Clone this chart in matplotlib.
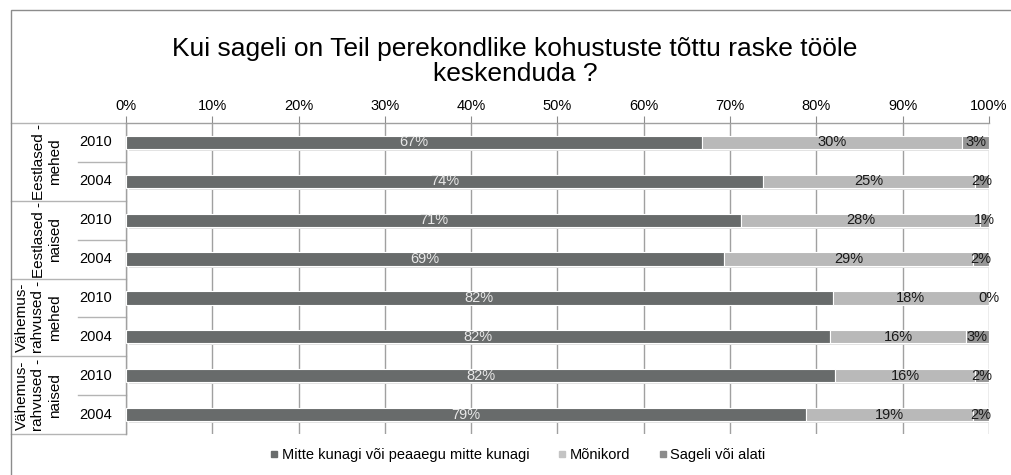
import numpy as np
import matplotlib.pyplot as plt
from matplotlib.lines import Line2D
from matplotlib.patches import Rectangle
import matplotlib.transforms as mtransforms

plt.rcParams['font.family'] = ['Liberation Sans', 'DejaVu Sans']

# andmed (loetud pildilt, %)
groups = ["Eestlased -\nmehed", "Eestlased -\nnaised",
          "Vähemus-\nrahvused -\nmehed", "Vähemus-\nrahvused -\nnaised"]
years = ["2010", "2004"]
series = ["Mitte kunagi või peaaegu mitte kunagi", "Mõnikord", "Sageli või alati"]
never = [66.7, 73.8, 71.3, 69.3, 81.9, 81.6, 82.2, 78.8]
sometimes = [30.2, 24.6, 27.7, 28.9, 18.1, 15.7, 16.2, 19.4]
often = [3.1, 1.6, 1.0, 1.8, 0.0, 2.7, 1.6, 1.8]
labels = [["67%", "74%", "71%", "69%", "82%", "82%", "82%", "79%"],
          ["30%", "25%", "28%", "29%", "18%", "16%", "16%", "19%"],
          ["3%", "2%", "1%", "2%", "0%", "3%", "2%", "2%"]]
colors = ["#686b6b", "#b9b9b9", "#959595"]
txtcolors = ["#e8e8e8", "#1a1a1a", "#1a1a1a"]

fig = plt.figure(figsize=(10.12, 4.75), dpi=100)
ax = fig.add_axes([126/1012, 1-434/475, (989-126)/1012, (434-123)/475])

y = np.arange(len(never))
h = 0.34
left = np.zeros(len(y))
vals = [never, sometimes, often]
for k, v in enumerate(vals):
    v = np.array(v)
    # vari
    ax.barh(y + 0.05, v, height=h, left=left + 0.3, color="#e2e2e2", zorder=2)
    ax.barh(y, v, height=h, left=left, color=colors[k], edgecolor="white",
            linewidth=0.8, zorder=3)
    for i in range(len(y)):
        ax.text(left[i] + v[i] / 2, y[i], labels[k][i], ha="center", va="center",
                fontsize=10.5, color=txtcolors[k], zorder=5)
    left = left + v

ax.set_xlim(0, 100)
ax.set_ylim(7.5, -0.5)
ax.set_xticks(np.arange(0, 101, 10))
ax.set_xticklabels([f"{t}%" for t in range(0, 101, 10)], fontsize=10.5)
ax.xaxis.tick_top()
ax.tick_params(axis="x", direction="out", length=5, color="#8c8c8c", pad=2)
ax.set_yticks([])
ax.grid(axis="x", color="#a0a0a0", linewidth=1, zorder=1)
ax.set_axisbelow(True)
for s in ["right", "bottom"]:
    ax.spines[s].set_visible(False)
for s in ["top", "left"]:
    ax.spines[s].set_color("#a0a0a0")
    ax.spines[s].set_linewidth(1)

# kategooriate tabel vasakul
tr = mtransforms.blended_transform_factory(fig.transFigure, ax.transData)
x0, x1, x2 = 11/1012, 78/1012, 126/1012
lc = "#b4b4b4"
for g in range(5):
    yy = -0.5 + 2 * g
    ax.plot([x0, x2], [yy, yy], color=lc, lw=1, transform=tr, clip_on=False)
for g in range(4):
    yy = 0.5 + 2 * g
    ax.plot([x1, x2], [yy, yy], color=lc, lw=1, transform=tr, clip_on=False)
for i in range(len(y)):
    ax.text(96/1012, y[i], years[i % 2], ha="center", va="center",
            fontsize=10.5, transform=tr)
for g, name in enumerate(groups):
    n = name.count("\n")
    xc = (56 - n * 17.5 / 2) / 1012
    ax.text(xc, 2 * g + 0.5, name, ha="center", va="center", rotation=90,
            fontsize=11, linespacing=1.2, transform=tr)

# raam
fig.patches.append(Rectangle((11/1012, -0.1), 1.2, 1 - 10/475 + 0.1, fill=False,
                             edgecolor="#8c8c8c", lw=1, transform=fig.transFigure))

fig.text(515/1012, 1 - 61.5/475,
         "Kui sageli on Teil perekondlike kohustuste tõttu raske tööle\nkeskenduda ?",
         ha="center", va="center", fontsize=19, linespacing=1.1)

handles = [Line2D([], [], marker="s", linestyle="none", markersize=5,
                  color=c) for c in ["#686b6b", "#c4c4c4", "#8c8c8c"]]
fig.legend(handles, series, loc="center", bbox_to_anchor=(517/1012, 1 - 455/475),
           ncol=3, frameon=False, fontsize=10.5, handletextpad=0.1,
           columnspacing=1.85, handlelength=0.8)

fig.savefig("out.png", dpi=100)
